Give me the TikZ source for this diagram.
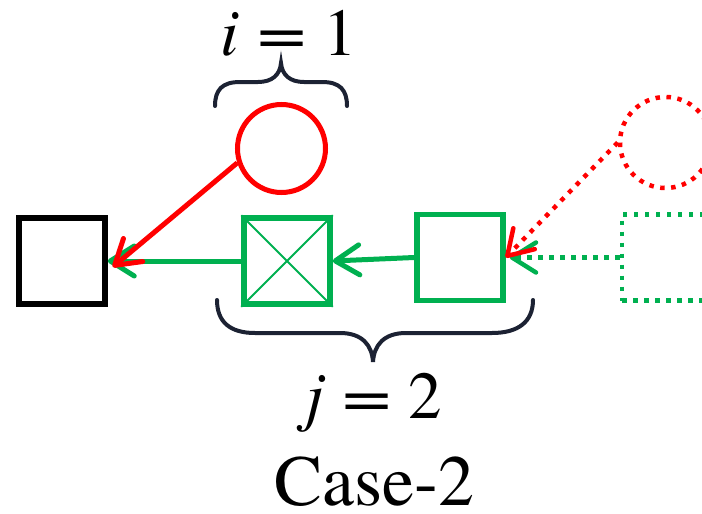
\documentclass[tikz,border=0pt]{standalone}
\usepackage{fontspec}
\usepackage{graphicx}
\IfFontExistsTF{texgyretermes-regular.otf}{%
  \newfontfamily\tms{texgyretermes}[Extension=.otf,UprightFont=*-regular,ItalicFont=*-italic,BoldFont=*-bold]}{%
  \newfontfamily\tms{Latin Modern Roman}}
\newcommand{\wideeq}{\hspace{0.26em}\scalebox{1.3}[1]{=}\hspace{0.26em}}
\usetikzlibrary{arrows.meta,calc}
\definecolor{grn}{HTML}{00B050}
\definecolor{brc}{HTML}{1C2233}
\begin{document}
\begin{tikzpicture}[x=1pt,y=-1pt,
  box/.style={draw, line width=5.5pt, minimum size=86pt, inner sep=0pt},
  ring/.style={draw=red, circle, line width=5pt, minimum size=88pt, inner sep=0pt},
  dots/.style={line width=4.5pt, dash pattern=on 4.5pt off 6.5pt},
  arr/.style={line width=5pt, -{Straight Barb[length=24pt,width=30pt,round]}},
  bracepath/.style={draw=brc, line width=4pt, line cap=round},
  lbl/.style={anchor=base, inner sep=0pt, text depth=0pt, font=\tms\fontsize{67}{80}\selectfont}
]
\clip (0,0) rectangle (702,514);
% nodes
\node[box, draw=black] (blk) at (62,261) {};
\node[box, draw=grn] (cx) at (287,261) {};
\draw[grn, line width=2pt] (cx.north west) -- (cx.south east) (cx.north east) -- (cx.south west);
\node[box, draw=grn] (gs) at (460,257.5) {};
\node[box, draw=grn, dots] (ds) at (665,257.5) {};
\node[ring] (rc) at (281.5,148.5) {};
\node[ring, dots, minimum size=91pt] (dc) at (665.5,142.5) {};
% connectors
\draw[arr, grn] (cx.west) -- (blk.east);
\draw[arr, grn] (gs.west) -- (cx.east);
\draw[arr, grn, dots] (ds.west) -- ($(gs.east)+(4,0)$);
\draw[arr, red] (rc.198) -- ($(blk.east)+(5,6)$);
\draw[arr, red, dots] (dc.west) -- (gs.east);
% braces
\draw[bracepath] (215,106) .. controls (215,90) and (222,82) .. (240,82) -- (258,82)
  .. controls (272,82) and (280,75) .. (281,63)
  .. controls (282,75) and (290,82) .. (304,82) -- (322,82)
  .. controls (340,82) and (347,90) .. (347,106);
\draw[bracepath] (217,300) .. controls (217,322) and (230,333) .. (255,333) -- (340,333)
  .. controls (362,333) and (372,345) .. (373,362)
  .. controls (374,345) and (384,333) .. (406,333) -- (492,333)
  .. controls (518,333) and (533,322) .. (533,300);
% labels
\node[lbl] (ti) at (289,55) {{\itshape i}\wideeq 1};
\node[lbl] (tj) at (374,418) {{\itshape j}\wideeq 2};
\node[lbl, font=\tms\fontsize{72}{86}\selectfont] (tc) at (374.5,505) {Case-2};
\end{tikzpicture}
\end{document}
